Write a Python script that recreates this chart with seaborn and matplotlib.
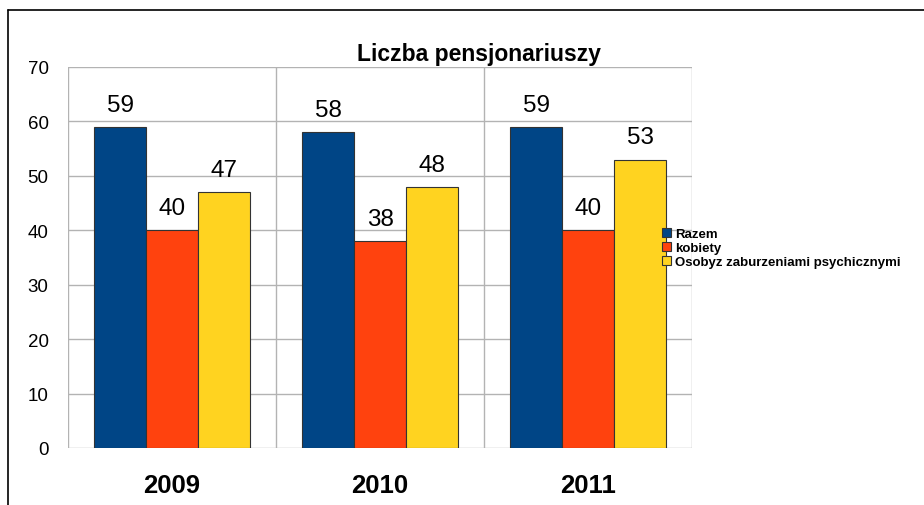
import pandas as pd
import matplotlib.pyplot as plt
import seaborn as sns
from matplotlib.lines import Line2D

# Chart data
years = ["2009", "2010", "2011"]
series = ["Razem", "kobiety", "Osoby z zaburzeniami psychicznymi"]
razem = [59, 58, 59]
kobiety = [40, 38, 40]
osoby = [47, 48, 53]
colors = ["#004586", "#ff420e", "#ffd320"]

df = pd.DataFrame({
    "rok": years * 3,
    "seria": [series[0]] * 3 + [series[1]] * 3 + [series[2]] * 3,
    "liczba": razem + kobiety + osoby,
})

sns.set_theme(style="white")
plt.rcParams['font.family'] = ['Liberation Sans', 'DejaVu Sans']
plt.rcParams['text.color'] = 'black'
plt.rcParams['xtick.labelcolor'] = 'black'
plt.rcParams['ytick.labelcolor'] = 'black'

fig = plt.figure(figsize=(9.24, 5.06), dpi=100)
ax = fig.add_axes([68 / 924, 57 / 506, 624 / 924, 381 / 506])

sns.barplot(data=df, x="rok", y="liczba", hue="seria", palette=colors,
            width=0.75, gap=0, edgecolor="#333333", linewidth=0.8,
            saturation=1, ax=ax, legend=False, zorder=3)

for cont in ax.containers:
    ax.bar_label(cont, fontsize=17.5, padding=8, color="black")

# axes / grid
ax.set_ylim(0, 70)
ax.set_xlim(-0.5, 2.5)
ax.set_yticks(range(0, 71, 10))
ax.set_xticks([0, 1, 2])
ax.set_xticks([-0.5, 0.5, 1.5, 2.5], minor=True)
ax.set_xticklabels(years, fontsize=18.5, fontweight="bold", color="black")
ax.tick_params(axis="x", which="major", length=0, pad=18)
ax.tick_params(axis="x", which="minor", length=8, color="#b3b3b3", width=1)
ax.tick_params(axis="y", length=8, color="#b3b3b3", width=1, labelsize=13.5, pad=6,
               labelcolor="black")
ax.yaxis.grid(True, color="#b3b3b3", linewidth=1, zorder=0)
ax.xaxis.grid(True, which="minor", color="#b3b3b3", linewidth=1, zorder=0)
for s in ax.spines.values():
    s.set_visible(False)
ax.set_xlabel("")
ax.set_ylabel("")

fig.text(479 / 924, 1 - 54 / 506, "Liczba pensjonariuszy", ha="center", va="center",
         fontsize=16.5, fontweight="bold", color="black")

# legend
handles = [plt.Rectangle((0, 0), 1, 1, facecolor=c, edgecolor="#333333", linewidth=0.8)
           for c in colors]
legend_labels = ["Razem", "kobiety", "Osobyz zaburzeniami psychicznymi"]
fig.legend(handles, legend_labels, loc="center left",
           bbox_to_anchor=(662 / 924, 1 - 249 / 506), frameon=False,
           prop={"size": 9.5, "weight": "bold"}, handlelength=0.7, handleheight=0.7,
           handletextpad=0.3, labelspacing=0.15, borderpad=0, borderaxespad=0,
           labelcolor="black")

# outer frame
fig.add_artist(Line2D([8 / 924, 1], [1 - 11 / 506, 1 - 11 / 506], color="black", linewidth=1.2))
fig.add_artist(Line2D([8 / 924, 8 / 924], [0, 1 - 11 / 506], color="black", linewidth=1.2))

fig.savefig("out.png", dpi=100)
